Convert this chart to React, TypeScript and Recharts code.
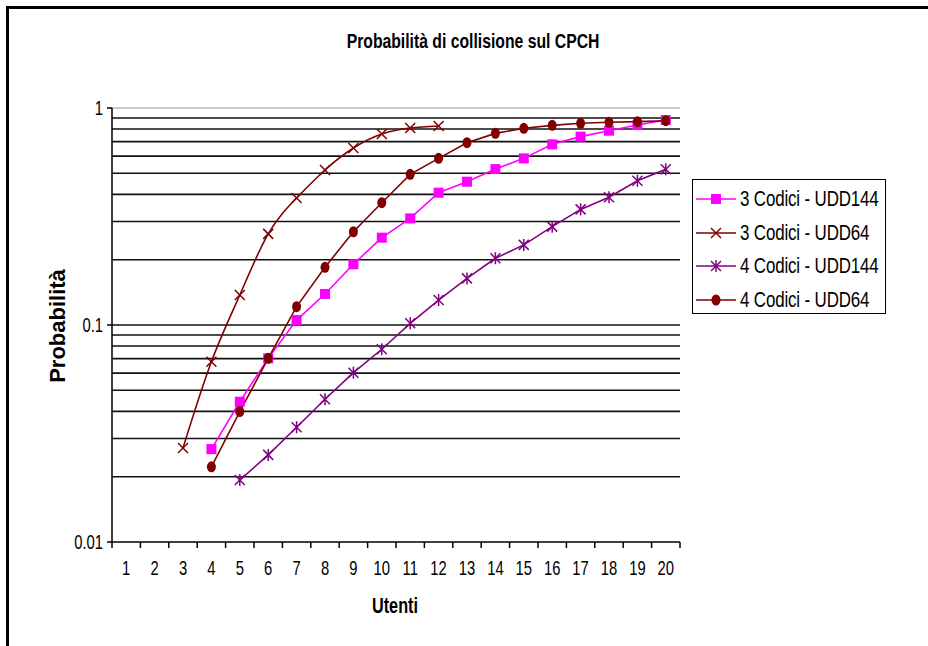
import React from 'react';
import { LineChart, Line, XAxis, YAxis, ReferenceLine, Legend } from 'recharts';

// ---- data ----
const users = [1, 2, 3, 4, 5, 6, 7, 8, 9, 10, 11, 12, 13, 14, 15, 16, 17, 18, 19, 20];
const cod3_udd144 = [null, null, null, 0.0268, 0.0443, 0.0702, 0.1054, 0.139, 0.1905, 0.2526, 0.31, 0.407, 0.4575, 0.523, 0.586, 0.68, 0.738, 0.786, 0.835, 0.88];
const cod3_udd64 = [null, null, 0.0271, 0.0677, 0.1375, 0.263, 0.385, 0.518, 0.654, 0.759, 0.809, 0.826, null, null, null, null, null, null, null, null];
const cod4_udd144 = [null, null, null, null, 0.0193, 0.0252, 0.0338, 0.0455, 0.0603, 0.0773, 0.1018, 0.1303, 0.164, 0.203, 0.234, 0.284, 0.341, 0.388, 0.4624, 0.522];
const cod4_udd64 = [null, null, null, 0.0222, 0.0399, 0.0702, 0.1215, 0.1845, 0.269, 0.366, 0.4946, 0.586, 0.692, 0.764, 0.806, 0.832, 0.85, 0.859, 0.865, 0.874];
const yTicks = [0.01, 0.1, 1];
const yTickLabels = ['0.01', '0.1', '1'];
const gridValues = [0.02, 0.03, 0.04, 0.05, 0.06, 0.07, 0.08, 0.09, 0.1, 0.2, 0.3, 0.4, 0.5, 0.6, 0.7, 0.8, 0.9, 1];
const title = 'Probabilità di collisione sul CPCH';
const xTitle = 'Utenti';
const yTitle = 'Probabilità';

const series = [
  { key: 'a', name: '3 Codici - UDD144', values: cod3_udd144, color: '#FF00FF', marker: 'square', type: 'linear' },
  { key: 'b', name: '3 Codici - UDD64', values: cod3_udd64, color: '#800000', marker: 'x', type: 'natural' },
  { key: 'c', name: '4 Codici - UDD144', values: cod4_udd144, color: '#800080', marker: 'star', type: 'linear' },
  { key: 'd', name: '4 Codici - UDD64', values: cod4_udd64, color: '#800000', marker: 'circle', type: 'linear' },
];

const data = users.map((u, i) => {
  const row: any = { u };
  series.forEach((s) => { row[s.key] = s.values[i]; });
  return row;
});

const FONT = '"Liberation Sans", Arial, sans-serif';

function SText({ x, y, size, weight, anchor, sq, children }: any) {
  return (
    <text transform={`translate(${x},${y}) scale(${sq || 0.78},1)`} x={0} y={0} textAnchor={anchor || 'middle'}
      fontSize={size} fontWeight={weight || 'normal'} fontFamily={FONT} fill="#000">{children}</text>
  );
}

function Marker({ kind, color, cx, cy }: any) {
  if (kind === 'square') return <rect x={cx - 5} y={cy - 5} width={10} height={10} fill={color} />;
  if (kind === 'x') return (
    <g stroke={color} strokeWidth={1.5}>
      <line x1={cx - 5} y1={cy - 5} x2={cx + 5} y2={cy + 5} />
      <line x1={cx - 5} y1={cy + 5} x2={cx + 5} y2={cy - 5} />
    </g>
  );
  if (kind === 'star') return (
    <g stroke={color} strokeWidth={1.5}>
      <line x1={cx - 5} y1={cy - 5} x2={cx + 5} y2={cy + 5} />
      <line x1={cx - 5} y1={cy + 5} x2={cx + 5} y2={cy - 5} />
      <line x1={cx} y1={cy - 6} x2={cx} y2={cy + 6} />
    </g>
  );
  return <ellipse cx={cx} cy={cy} rx={4.5} ry={5.5} fill={color} />;
}

function makeDot(s: any) {
  return (props: any) => {
    const { cx, cy, value, index } = props;
    if (value == null || cx == null || cy == null || isNaN(cy)) return <g key={`${s.key}-${index}`} />;
    return <g key={`${s.key}-${index}`}><Marker kind={s.marker} color={s.color} cx={cx} cy={cy} /></g>;
  };
}

function XTick(props: any) {
  const { x, y, payload, index, visibleTicksCount } = props;
  const half = payload.offset || 0;
  const axisY = y - 6;
  return (
    <g>
      <line x1={x - half} y1={axisY} x2={x - half} y2={axisY + 6} stroke="#000" strokeWidth={1.5} />
      {index === visibleTicksCount - 1 && (
        <line x1={x + half} y1={axisY} x2={x + half} y2={axisY + 6} stroke="#000" strokeWidth={1.5} />
      )}
      <SText x={x} y={axisY + 33} size={20} sq={0.74}>{payload.value}</SText>
    </g>
  );
}

function YTick(props: any) {
  const { x, y, payload } = props;
  const i = yTicks.indexOf(payload.value);
  return <SText x={x} y={y + 7} size={20} sq={0.74} anchor="end">{i >= 0 ? yTickLabels[i] : payload.value}</SText>;
}

function LegendBox() {
  return (
    <div style={{ width: 194, height: 135, border: '1.5px solid #000', background: '#fff', boxSizing: 'border-box', paddingTop: 2 }}>
      {series.map((s) => (
        <div key={s.key} style={{ height: 33.7, display: 'flex', alignItems: 'center' }}>
          <svg width={44} height={20} style={{ flex: 'none', marginLeft: 3 }}>
            <line x1={0} y1={10} x2={40} y2={10} stroke={s.color} strokeWidth={1.5} />
            <Marker kind={s.marker} color={s.color} cx={20} cy={10} />
          </svg>
          <span style={{ fontFamily: FONT, fontSize: 22, color: '#000', whiteSpace: 'nowrap', display: 'inline-block', transform: 'scaleX(0.77)', transformOrigin: 'left center', letterSpacing: -0.2 }}>{s.name}</span>
        </div>
      ))}
    </div>
  );
}

export default function App() {
  return (
    <div style={{ position: 'absolute', left: 0, top: 0, width: 928, height: 646, background: '#fff' }}>
      <div style={{ position: 'absolute', left: 6, top: 6, width: 922, height: 640, borderTop: '3px solid #000', borderLeft: '3px solid #000' }} />
      <div style={{ position: 'absolute', left: 0, top: 0 }}>
        <LineChart width={928} height={646} data={data} margin={{ top: 108, right: 248, left: 52, bottom: 64 }}>
          {gridValues.map((v) => (
            <ReferenceLine key={v} y={v} stroke={v === 1 ? '#c8c8c8' : '#111'} strokeWidth={v === 1 ? 2 : 1.6} />
          ))}
          <XAxis dataKey="u" type="category" scale="band" height={40} tickSize={6} tickMargin={0} tickLine={false}
            axisLine={{ stroke: '#000', strokeWidth: 1.5 }} tick={<XTick />} interval={0} />
          <YAxis type="number" scale="log" domain={[0.01, 1]} ticks={yTicks} allowDataOverflow width={60}
            tickSize={5} tickMargin={4} tickLine={{ stroke: '#000', strokeWidth: 1.5 }}
            axisLine={{ stroke: '#000', strokeWidth: 1.5 }} tick={<YTick />} />
          {series.map((s) => (
            <Line key={s.key} dataKey={s.key} name={s.name} type={s.type as any} stroke={s.color} strokeWidth={1.6}
              dot={makeDot(s)} activeDot={false} isAnimationActive={false} connectNulls={false} />
          ))}
          <Legend layout="vertical" align="center" verticalAlign="middle" content={() => <LegendBox />}
            wrapperStyle={{ position: 'absolute', left: 692, top: 179, width: 194, height: 135 }} />
          <SText x={473} y={48} size={21} weight="bold" sq={0.75}>{title}</SText>
          <SText x={395} y={613} size={22} weight="bold" sq={0.74}>{xTitle}</SText>
          <text transform="translate(65,326) rotate(-90)" textAnchor="middle" fontSize={22} fontWeight="bold" fontFamily={FONT} fill="#000">{yTitle}</text>
        </LineChart>
      </div>
    </div>
  );
}
